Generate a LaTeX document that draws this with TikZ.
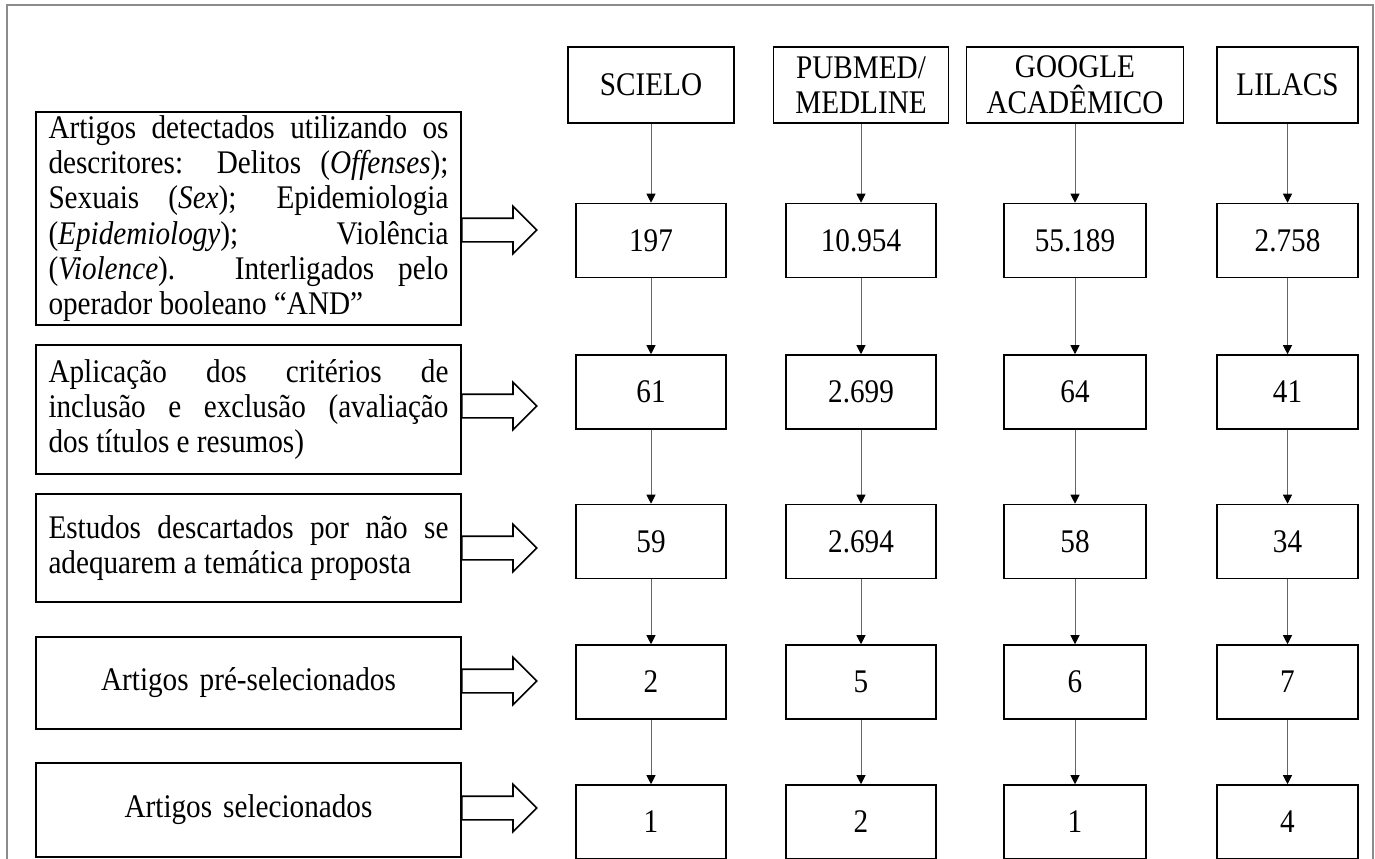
\documentclass[tikz,border=0pt]{standalone}
\usepackage{fontspec}
\setmainfont[FakeStretch=0.885]{Liberation Serif}
\usetikzlibrary{arrows.meta,shapes.arrows}
\hyphenpenalty=10000
\tolerance=9999

\tikzstyle{box}=[
    draw,
    line width=0.8pt,
    inner sep=0pt,
    align=center,
    font=\fontsize{16.5}{17.8}\selectfont,
  ]
\tikzstyle{dbbox}=[
    box,
    minimum height=38pt,
  ]
\tikzstyle{numbox}=[
    box,
    minimum height=37pt,
  ]
\tikzstyle{stepbox}=[
    box,
    minimum width=212.5pt,
    text width=200pt,
    align=justify,
    font=\fontsize{16.5}{17.6}\selectfont,
  ]
\tikzstyle{fatarrow}=[
    draw,
    fill=white,
    line width=0.8pt,
    single arrow,
    single arrow head extend=6pt,
    minimum height=37.5pt,
    inner sep=5.5pt,
    anchor=tail,
  ]
\tikzstyle{flow}=[
    -{Triangle[length=4.5pt,width=4.5pt,color=black]},
    draw=black!60,
    line width=0.5pt,
  ]

\begin{document}
\begin{tikzpicture}[x=0.5pt, y=-0.5pt]
      \useasboundingbox (0,0) rectangle (1375,858);
      \fill[white] (0,0) rectangle (1375,858);
      \clip (0,0) rectangle (1375,858);
      \draw[black!45, line width=1pt] (7,880) -- (7,5) -- (1373,5) -- (1373,880);

      % databases
      \foreach \x/\w/\txt [count=\c] in {651/83/SCIELO, 861/87.5/{PUBMED/\\MEDLINE},
          1075/108.5/{GOOGLE\\ACADÊMICO}, 1287.5/70.5/LILACS} {%
        \node[dbbox, minimum width=\w pt] (h\c) at (\x, 85) {\txt};
      }

      % counts
      \foreach \r/\y/\a/\b/\cc/\d in {1/240.5/197/10.954/55.189/2.758,
          2/392/61/2.699/64/41, 3/541.5/59/2.694/58/34, 4/682/2/5/6/7, 5/822/1/2/1/4} {%
        \node[numbox, minimum width=75pt] (n\r-1) at (651, \y) {\a};
        \node[numbox, minimum width=75pt] (n\r-2) at (861, \y) {\b};
        \node[numbox, minimum width=71pt] (n\r-3) at (1075, \y) {\cc};
        \node[numbox, minimum width=70.5pt] (n\r-4) at (1287.5, \y) {\d};
      }

      % steps
      \node[stepbox, minimum height=106.5pt] (s1) at (248.5, 218.5)
        {Artigos detectados utilizando os\linebreak
         descritores: Delitos (\textit{Offenses});\linebreak
         Sexuais (\textit{Sex}); Epidemiologia\linebreak
         (\textit{Epidemiology}); Violência\linebreak
         (\textit{Violence}). Interligados pelo\linebreak
         operador booleano “AND”};
      \node[stepbox, minimum height=64.5pt] (s2) at (248.5, 409.5)
        {Aplicação dos critérios de\linebreak
         inclusão e exclusão (avaliação\linebreak
         dos títulos e resumos)};
      \node[stepbox, minimum height=54pt] (s3) at (248.5, 548)
        {Estudos descartados por não se\linebreak
         adequarem a temática proposta};
      \node[stepbox, minimum height=46pt, align=center] (s4) at (248.5, 683)
        {Artigos pré-selecionados};
      \node[stepbox, minimum height=47pt, align=center] (s5) at (248.5, 810)
        {Artigos selecionados};

      \foreach \y [count=\i] in {230, 406, 548, 681, 808} {%
        \node[fatarrow] (a\i) at (461, \y) {};
      }

      \foreach \c in {1,...,4} {%
        \draw[flow] (h\c) -- (n1-\c);
        \foreach \r [evaluate=\r as \s using int(\r+1)] in {1,...,4} {%
          \draw[flow] (n\r-\c) -- (n\s-\c);
        }
      }
    \end{tikzpicture}
\end{document}
